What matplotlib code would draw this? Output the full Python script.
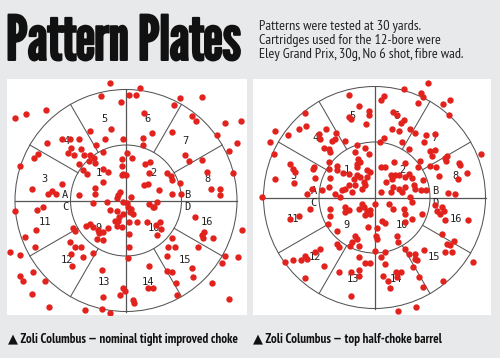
import numpy as np
import matplotlib
matplotlib.use("Agg")
import matplotlib.pyplot as plt
import matplotlib.patheffects as pe
from matplotlib.patches import Circle

# shot holes, measured from the centre of each plate (plate units, outer ring radius ~111)
left_shots = [
    (-16, 118), (14, 113), (-25, 105), (3, 106), (10, 106), (-5, 99), (-111, 83), (-100, 87),
    (-80, 91), (54, 103), (76, 104), (48, 96), (18, 88), (66, 85), (70, 80), (99, 78), (115, 80),
    (-15, 72), (-36, 70), (26, 68), (46, 69), (91, 66), (17, 63), (-3, 62), (-21, 62), (-64, 62),
    (-56, 62), (-47, 62), (111, 58), (-79, 58), (-88, 47), (-92, 43), (103, 50), (76, 41),
    (-106, 35), (81, 29), (107, 28), (-94, 12), (-74, 10), (-78, 7), (-70, 7), (85, 12), (94, 12),
    (94, 6),
    (-55, 53), (-45, 52), (-58, 48), (-52, 46), (-42, 46), (-36, 46), (-32, 43), (-37, 40),
    (-31, 38), (-30, 56), (-47, 37),
    (-23, 49), (1, 48), (6, 43), (-4, 42), (17, 56), (59, 46), (63, 40), (24, 39), (19, 37),
    (-4, 35), (-23, 32), (-18, 29), (-43, 31), (-39, 27), (-3, 27), (0, 26), (-4, 26), (41, 28),
    (45, 25), (46, 21), (22, 17), (18, 16), (23, 28), (-23, 19), (54, 18), (-64, 17), (-31, 13),
    (-31, 7), (-47, 6), (-6, 9), (-8, 6), (-9, 3), (5, 4), (33, 11), (46, 7), (55, 7),
    (-33, -2), (-19, -1), (-3, -1), (1, -2), (2, -6), (5, -8), (4, -11), (7, -13), (23, -3),
    (27, -6), (31, -1), (28, -6), (-16, -9), (-9, -10), (-7, -16), (-11, -20), (-8, -20),
    (-3, -13), (3, -21), (11, -21), (21, -21), (30, -24), (34, -21), (69, -16), (-40, -25),
    (-36, -23), (-33, -26), (-28, -29), (-27, -32), (-23, -31), (-18, -27), (-9, -25), (-4, -26),
    (-53, -27), (-51, -30), (-56, -41), (-29, -38), (-23, -39), (3, -33), (3, -46), (31, -34),
    (35, -28), (46, -37), (42, -46), (49, -46), (72, -46), (-51, -46), (-45, -46), (-43, -56),
    (-33, -52), (2, -57), (41, -55), (-55, -53),
    (-111, -10), (-89, -9), (-83, -6), (-101, -36), (-90, -29), (-91, -46), (-116, -51),
    (-106, -54), (-93, -71), (-106, -75), (-103, -80), (-81, -80), (-94, -93), (-77, -106),
    (-54, -65), (-24, -69), (-23, -96), (-41, -109), (-24, -108), (-16, -112), (-3, -87),
    (-1, -90), (-6, -94), (7, -99), (8, -102), (23, -65), (22, -87), (27, -87), (41, -70),
    (46, -71), (50, -82), (51, -94), (66, -67), (67, -76), (86, -82), (103, -98), (96, -62),
    (99, -55), (112, -56), (116, -29), (87, -37), (77, -37), (76, -34), (78, -31),
]

right_shots = [
    (53, 115), (29, 109), (46, 105), (48, 101), (43, 95), (68, 94), (75, 98), (-26, 103), (9, 102),
    (6, 98), (-16, 92), (-6, 87), (-6, 83), (-26, 81), (-24, 79), (-9, 74), (18, 86), (22, 83),
    (29, 78), (26, 75), (17, 69), (24, 67), (35, 69), (40, 65), (74, 83), (51, 63), (60, 64),
    (-70, 85), (-69, 72), (-76, 69), (-87, 63), (-100, 67), (-105, 56), (-101, 44), (-56, 64),
    (-49, 69), (-39, 65), (-85, 34), (-82, 29), (-80, 26), (-81, 15), (-100, 19), (-113, 1),
    (106, 44), (92, 25), (84, 35), (85, 33), (80, 4), (83, 19),
    (-43, 57), (-51, 50), (-46, 49), (-45, 46), (-30, 57), (-18, 53), (-10, 50), (-6, 44),
    (-20, 46), (-17, 39), (-18, 34), (-15, 36), (9, 60), (5, 56), (34, 49), (49, 56), (55, 47),
    (60, 48), (70, 40), (45, 37), (64, 22), (72, 42), (-61, 31), (-68, 4), (73, 5), (-55, 59),
    (-40, 59), (27, 56), (57, 42), (71, 37), (30, 35), (43, 31), (55, 32), (61, 31),
    (-46, 36), (-38, 32), (-38, 28), (-46, 29), (-26, 24), (-21, 19), (-18, 23), (-15, 21),
    (-8, 28), (-5, 26), (-8, 21), (-11, 16), (-10, 13), (-13, 9), (-20, 13), (-26, 13), (-30, 9),
    (-33, 8), (-23, 6), (-35, 1), (-46, 11), (-53, 8), (-45, 20), (-62, 29), (-60, 20), (-63, 9),
    (-18, 31), (-32, 25), (-40, 4),
    (6, 31), (10, 31), (19, 36), (11, 16), (17, 19), (20, 23), (16, 23), (24, 23), (30, 21),
    (34, 24), (37, 20), (39, 13), (30, 11), (24, 9), (18, 11), (6, 6), (16, 6), (48, 18), (46, 8),
    (51, 8), (40, 9), (27, 6),
    (-45, -11), (-45, -18), (-30, -9), (-26, -12), (-30, -14), (-16, -11), (-11, -9), (-8, -13),
    (-5, -12), (-10, -17), (-5, -16), (0, -6), (-13, -6), (-47, -26), (-38, -33), (-20, -38),
    (-18, -41), (-23, -44), (-16, -48), (-25, -48), (-38, -46), (-36, -49), (-7, -29), (1, -38),
    (2, -41), (0, -53), (7, -23), (10, -25), (2, -30), (14, -6), (18, -11), (30, -16), (37, -21),
    (37, -4), (35, 1), (47, -16), (62, -13), (65, -16), (69, -13), (60, -7), (23, -44), (30, -51),
    (34, -56), (40, -56), (49, -52), (10, -54), (-16, -59), (67, -36), (72, -46), (-70, -58),
    (-68, -61), (-60, -54), (-55, -51), (-65, -11), (6, -59), (30, -24), (70, -22), (40, -61),
    (42, -62), (22, -38), (67, -9), (29, -11),
    (-85, -21), (-76, -18), (-90, -64), (-82, -62), (-74, -62), (-51, -68), (-70, -80), (-36, -74),
    (-24, -74), (-16, -72), (-16, -78), (-24, -98), (-10, -65), (-5, -65), (10, -66), (8, -78),
    (13, -83), (15, -90), (21, -74), (26, -74), (22, -79), (38, -69), (44, -79), (48, -89),
    (23, -113), (41, -109), (68, -83), (98, -64), (77, -54), (70, -54), (75, -47), (79, -43),
    (93, -22),
]

# sector numbering, counter-clockwise from 3 o'clock
outer_numbers = [8, 7, 6, 5, 4, 3, 11, 12, 13, 14, 15, 16]
inner_numbers = [2, 1, 9, 10]
line_letters = ["A", "B", "C", "D"]

title = "Pattern Plates"
intro = ["Patterns were tested at 30 yards.",
         "Cartridges used for the 12-bore were",
         "Eley Grand Prix, 30g, No 6 shot, fibre wad."]
captions = ["\u25b2 Zoli Columbus \u2014 nominal tight improved choke",
            "\u25b2 Zoli Columbus \u2014 top half-choke barrel"]

OUTER_R = 111
INNER_R = 55.5
RED = "#e2231d"
LINE = "#555555"
BG = "#e8e9eb"

TITLE_FONT = ["League Gothic", "Antonio", "Oswald", "DejaVu Sans"]
BODY_FONT = ["PT Sans Narrow", "Archivo Narrow", "Liberation Sans Narrow", "DejaVu Sans"]


def draw_plate(ax, shots):
    ax.set_facecolor("white")
    for s in ax.spines.values():
        s.set_visible(False)
    ax.set_xticks([])
    ax.set_yticks([])

    ax.add_patch(Circle((0, 0), OUTER_R, fill=False, ec=LINE, lw=0.75))
    ax.add_patch(Circle((0, 0), INNER_R, fill=False, ec=LINE, lw=0.75))
    ax.plot([-OUTER_R, OUTER_R], [0, 0], color=LINE, lw=0.9)
    ax.plot([0, 0], [-OUTER_R, OUTER_R], color=LINE, lw=0.9)
    for a in [30, 60, 120, 150, 210, 240, 300, 330]:
        t = np.radians(a)
        ax.plot([INNER_R * np.cos(t), OUTER_R * np.cos(t)],
                [INNER_R * np.sin(t), OUTER_R * np.sin(t)], color=LINE, lw=0.75)

    for i, n in enumerate(outer_numbers):
        t = np.radians(15 + 30 * i)
        ax.text(84 * np.cos(t), 84 * np.sin(t), str(n), ha="center", va="center",
                family="DejaVu Sans Mono", fontsize=7.5, color="#222222")
    for i, n in enumerate(inner_numbers):
        t = np.radians(45 + 90 * i)
        ax.text(39 * np.cos(t), 39 * np.sin(t), str(n), ha="center", va="center",
                family="DejaVu Sans Mono", fontsize=7.5, color="#222222")
    for lab, (sx, sy) in zip(line_letters, [(-1, 1), (1, 1), (-1, -1), (1, -1)]):
        ax.text(sx * 61, sy * 6, lab, ha="center", va="center",
                family="DejaVu Sans Mono", fontsize=7.5, color="#222222")

    xy = np.array(shots)
    ax.scatter(xy[:, 0], xy[:, 1], s=21, color=RED, linewidths=0, zorder=5)


W, H = 500, 358
fig = plt.figure(figsize=(W / 100, H / 100), dpi=100, facecolor=BG)

ax1 = fig.add_axes([7 / W, 43 / H, 240 / W, 236 / H])
draw_plate(ax1, left_shots)
ax1.set_xlim(-119, 121)
ax1.set_ylim(-114.5, 121.5)

ax2 = fig.add_axes([253 / W, 43 / H, 238 / W, 236 / H])
draw_plate(ax2, right_shots)
ax2.set_xlim(-121.5, 116.5)
ax2.set_ylim(-117.5, 118.5)

# title is a heavy compressed face; a thin stroke thickens the regular weight
fig.text(6 / W, 1 - 60 / H, title, family=TITLE_FONT, fontsize=44.5,
         color="#111111", va="baseline", ha="left",
         path_effects=[pe.withStroke(linewidth=1.4, foreground="#111111")])
for i, line in enumerate(intro):
    fig.text(259 / W, 1 - (30 + 14.2 * i) / H, line, family=BODY_FONT,
             fontsize=10.3, color="#222222", va="baseline", ha="left")

fig.text(8 / W, 1 - 339 / H, captions[0], family=BODY_FONT, fontweight="bold",
         fontsize=9.4, color="#111111", va="center", ha="left")
fig.text(253 / W, 1 - 339 / H, captions[1], family=BODY_FONT, fontweight="bold",
         fontsize=9.4, color="#111111", va="center", ha="left")

fig.savefig("out.png", dpi=100, facecolor=BG)
